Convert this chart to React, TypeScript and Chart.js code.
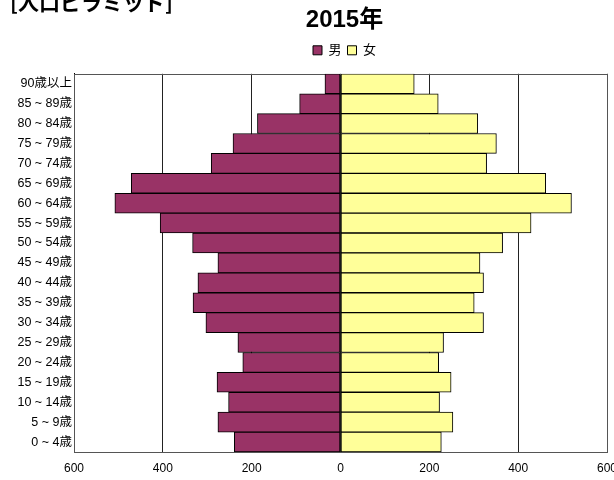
import React, { useEffect, useRef } from "react";
import { Chart, registerables } from "chart.js";

Chart.register(...registerables);

const ageLabels: string[] = [
  "90歳以上",
  "85 ~ 89歳",
  "80 ~ 84歳",
  "75 ~ 79歳",
  "70 ~ 74歳",
  "65 ~ 69歳",
  "60 ~ 64歳",
  "55 ~ 59歳",
  "50 ~ 54歳",
  "45 ~ 49歳",
  "40 ~ 44歳",
  "35 ~ 39歳",
  "30 ~ 34歳",
  "25 ~ 29歳",
  "20 ~ 24歳",
  "15 ~ 19歳",
  "10 ~ 14歳",
  "5 ~ 9歳",
  "0 ~ 4歳",
];

const maleValues: number[] = [35, 92, 187, 242, 291, 471, 508, 406, 333, 276, 321, 332, 303, 231, 220, 278, 252, 276, 239];
const femaleValues: number[] = [166, 220, 309, 351, 329, 462, 520, 429, 365, 314, 322, 301, 322, 232, 221, 249, 223, 253, 227];

const seriesNames = ["男", "女"];
const chartTitle = "2015年";
const pageHeading = "[人口ピラミッド]";
const xMin = -600;
const xMax = 600;
const xStep = 200;

const FONT = "'Liberation Sans', Arial, 'Noto Sans CJK JP', sans-serif";

const framePlugin = {
  id: "frame",
  beforeDatasetsDraw(chart: any) {
    const { ctx, chartArea } = chart;
    ctx.save();
    ctx.strokeStyle = "#555";
    ctx.lineWidth = 1;
    ctx.strokeRect(
      Math.round(chartArea.left) + 0.5,
      Math.round(chartArea.top) + 0.5,
      Math.round(chartArea.right - chartArea.left),
      Math.round(chartArea.bottom - chartArea.top)
    );
    ctx.restore();
  },
};

export default function App() {
  const canvasRef = useRef<HTMLCanvasElement | null>(null);

  useEffect(() => {
    if (!canvasRef.current) return;
    const chart = new Chart(canvasRef.current, {
      type: "bar",
      data: {
        labels: ageLabels,
        datasets: [
          {
            label: seriesNames[0],
            data: maleValues.map((v) => -v),
            backgroundColor: "#993366",
            borderColor: "#000",
            borderWidth: 1,
            borderSkipped: false,
            barPercentage: 1,
            categoryPercentage: 1,
          },
          {
            label: seriesNames[1],
            data: femaleValues,
            backgroundColor: "#FFFF99",
            borderColor: "#000",
            borderWidth: 1,
            borderSkipped: false,
            barPercentage: 1,
            categoryPercentage: 1,
          },
        ],
      },
      options: {
        indexAxis: "y",
        responsive: false,
        animation: false,
        layout: { padding: 0 },
        scales: {
          x: {
            stacked: true,
            min: xMin,
            max: xMax,
            ticks: {
              stepSize: xStep,
              color: "#000",
              font: { family: FONT, size: 12 },
              padding: 9,
              callback: (v: any) => String(Math.abs(Number(v))),
            },
            grid: { color: "#222", lineWidth: 1, drawTicks: false },
            border: { display: true, color: "#444" },
            afterFit: (scale: any) => {
              scale.height = 28;
            },
          },
          xTopSpacer: {
            type: "linear",
            position: "top",
            display: true,
            ticks: { display: false },
            grid: { display: false, drawTicks: false },
            border: { display: false },
            afterFit: (scale: any) => {
              scale.height = 7;
            },
          },
          y: {
            stacked: true,
            ticks: {
              color: "#000",
              font: { family: FONT, size: 12.5 },
              padding: 2,
              autoSkip: false,
            },
            grid: { display: false, drawTicks: false },
            border: { display: true, color: "#000" },
            afterFit: (scale: any) => {
              scale.width = 74;
            },
          },
          yRightSpacer: {
            type: "linear",
            position: "right",
            display: true,
            ticks: { display: false },
            grid: { display: false, drawTicks: false },
            border: { display: false },
            afterFit: (scale: any) => {
              scale.width = 82;
            },
          },
        },
        plugins: {
          title: {
            display: true,
            text: chartTitle,
            color: "#000",
            font: { family: FONT, size: 24, weight: "bold" },
            padding: { top: 6, bottom: 3 },
          },
          legend: {
            display: true,
            labels: {
              boxWidth: 9,
              boxHeight: 9,
              color: "#000",
              font: { family: FONT, size: 13 },
              padding: 6,
            },
          },
          tooltip: { enabled: false },
        },
      },
      plugins: [framePlugin],
    });
    return () => chart.destroy();
  }, []);

  return (
    <div
      style={{
        position: "fixed",
        left: 0,
        top: 0,
        width: 614,
        height: 480,
        overflow: "hidden",
        background: "#fff",
      }}
    >
      <canvas
        ref={canvasRef}
        width={689}
        height={480}
        style={{ position: "absolute", left: 0, top: 0, width: 689, height: 480 }}
      />
      <div
        style={{
          position: "absolute",
          left: 10,
          top: -14,
          fontFamily: "'Noto Sans CJK JP', sans-serif",
          fontWeight: "bold",
          fontSize: 21,
          whiteSpace: "nowrap",
          color: "#000",
        }}
      >
        {pageHeading}
      </div>
    </div>
  );
}
